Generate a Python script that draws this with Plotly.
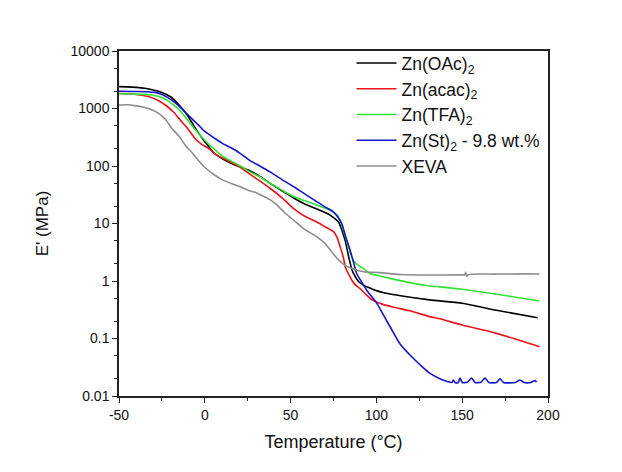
import plotly.graph_objects as go

# ---------------- data ----------------
T_oac = [-50, -45, -40, -35, -30, -25, -20, -15, -10, -5, 0, 5, 10, 15, 20, 25, 30, 38, 45, 52, 58, 65, 70,
         73, 76, 78, 80, 82, 84, 86, 88, 90, 93, 96, 100, 105, 115, 131, 150, 170, 194]
E_oac = [2400, 2380, 2330, 2250, 2100, 1900, 1600, 1150, 750, 430, 265, 172, 135, 113, 98, 86, 72, 50, 37, 27.5,
         22, 18, 15.5, 14, 12, 10.5, 7.5, 4.8, 2.5, 1.5, 1.15, 0.95, 0.83, 0.76, 0.68, 0.62, 0.55, 0.47, 0.41,
         0.31, 0.23]

T_acac = [-50, -40, -33, -28, -23, -18, -13.5, -10, -5.7, -2, 2, 7, 13.7, 20, 26.3, 32, 38, 45, 51.6, 58, 65,
          70, 75, 77, 78.8, 80.7, 82, 84.6, 87, 90.4, 94, 98, 103, 110, 120, 131, 137, 150, 165, 180, 195]
E_acac = [1820, 1750, 1620, 1420, 1150, 850, 590, 450, 300, 240, 204, 155, 123, 98, 72, 55, 41, 28, 18.3, 13.5,
          10.7, 8.8, 7.2, 5.8, 4.0, 2.6, 1.7, 1.19, 0.9, 0.74, 0.58, 0.46, 0.40, 0.35, 0.30, 0.24, 0.22, 0.172,
          0.135, 0.10, 0.072]

T_tfa = [-50, -40, -30, -25, -19.3, -15, -11.5, -7, -3.8, 0, 5.9, 10, 17.6, 22, 26.3, 32, 38, 45, 51.6, 58, 65.2,
         70, 73, 76, 77.8, 80, 82.6, 84.6, 86.5, 90.4, 92.4, 96.3, 102, 107.9, 121.5, 131, 137, 150, 170, 195]
E_tfa = [1800, 1780, 1700, 1550, 1230, 950, 720, 480, 370, 280, 191, 150, 112, 95, 79, 65, 50, 38, 29.5, 25, 21,
         18.5, 17, 15, 13.2, 9, 5.1, 3.2, 2.3, 1.78, 1.66, 1.35, 1.22, 1.11, 0.91, 0.82, 0.79, 0.72, 0.59, 0.45]

T_st = [-50, -40, -29, -25, -19.3, -15, -11.5, -7, -3.8, 0, 5.9, 10, 17.6, 22, 26.3, 32, 38, 45, 51.6, 58, 65.2,
        70, 74.9, 77.5, 79.8, 82, 84.6, 86.5, 88.5, 92, 95, 100, 104, 108, 113.8, 120, 125.4, 131, 137, 141,
        144, 144.8, 145.8, 147.5, 148.7, 150, 153, 155.5, 157.5, 161, 163.3, 165.5, 170, 172, 174, 181,
        183.7, 186, 190, 192.4, 193.4]
E_st = [2000, 1980, 1910, 1750, 1400, 1100, 870, 640, 520, 400, 302, 250, 190, 155, 124, 100, 79, 58, 44, 33, 24,
        19.5, 16, 13, 10, 6, 3.5, 2.2, 1.35, 0.9, 0.65, 0.42, 0.26, 0.16, 0.08, 0.05, 0.035, 0.025, 0.02, 0.018,
        0.0172, 0.019, 0.0172, 0.017, 0.0205, 0.0172, 0.0174, 0.0205, 0.0172, 0.0174, 0.0205, 0.0172, 0.0172,
        0.020, 0.0172, 0.0172, 0.019, 0.0172, 0.0172, 0.0185, 0.0175]

T_xeva = [-50, -45, -40, -36.8, -32, -27.1, -23, -19.3, -15, -11.5, -7, -3.8, 0, 5.9, 10, 17.6, 22, 26, 29.3,
          34, 38, 42, 46, 51.6, 58, 65.2, 70, 73, 76, 78.8, 82.6, 88.5, 92.4, 102, 113.8, 131, 150, 151.5, 152,
          152.6, 153.5, 170, 185, 195]
E_xeva = [1150, 1160, 1110, 1070, 980, 830, 650, 455, 330, 233, 165, 126, 95, 69, 58, 47, 42, 37, 35, 30, 26, 21,
          16, 11.5, 8, 5.9, 4.5, 3.5, 2.7, 2.2, 1.8, 1.55, 1.45, 1.4, 1.3, 1.27, 1.28, 1.28, 1.42, 1.2, 1.29,
          1.32, 1.33, 1.32]

names = ["Zn(OAc)<sub>2</sub>", "Zn(acac)<sub>2</sub>", "Zn(TFA)<sub>2</sub>",
         "Zn(St)<sub>2</sub> - 9.8 wt.%", "XEVA"]
colors = ["#000000", "#e8131b", "#35e035", "#1515c8", "#8c8c8c"]

x_ticks = [-50, 0, 50, 100, 150, 200]
y_ticks = [0.01, 0.1, 1, 10, 100, 1000, 10000]
y_tick_labels = ["0.01", "0.1", "1", "10", "100", "1000", "10000"]

# ---------------- figure ----------------
fig = go.Figure()
series = [(T_oac, E_oac), (T_acac, E_acac), (T_tfa, E_tfa), (T_st, E_st), (T_xeva, E_xeva)]
for (tx, ey), nm, c in zip(series, names, colors):
    fig.add_trace(go.Scatter(x=tx, y=ey, mode="lines", name=nm,
                             line=dict(color=c, width=1.6, shape="spline", smoothing=0.6)))

font_main = "Liberation Sans, Arial, sans-serif"
fig.update_layout(
    width=622, height=472,
    margin=dict(l=111, r=82, t=43, b=84),
    paper_bgcolor="white", plot_bgcolor="white",
    font=dict(family=font_main, size=14, color="#111"),
    showlegend=True,
    legend=dict(x=0.542, y=1.017, xanchor="left", yanchor="top",
                bgcolor="rgba(0,0,0,0)", font=dict(size=17.5, color="#111"),
                tracegroupgap=0, itemwidth=40),
)
fig.update_xaxes(
    range=[-50, 200], tickvals=x_ticks, ticktext=[str(v) for v in x_ticks],
    showgrid=False, zeroline=False, showline=True, linecolor="#222", linewidth=1.5, mirror=True,
    ticks="outside", ticklen=5, tickwidth=1.2, tickcolor="#222",
    minor=dict(ticks="outside", ticklen=3, tickwidth=1.2, tickcolor="#222", dtick=25),
    title=dict(text="Temperature (°C)", font=dict(size=18), standoff=14),
)
fig.update_yaxes(
    type="log", range=[-2, 4], tickvals=y_ticks, ticktext=y_tick_labels,
    showgrid=False, zeroline=False, showline=True, linecolor="#222", linewidth=1.5, mirror=True,
    ticks="outside", ticklen=5, tickwidth=1.2, tickcolor="#222",
    minor=dict(ticks="outside", ticklen=3, tickwidth=1, tickcolor="#222"),
    title=dict(text="E' (MPa)", font=dict(size=17), standoff=18),
)

fig.write_html("out.html")
